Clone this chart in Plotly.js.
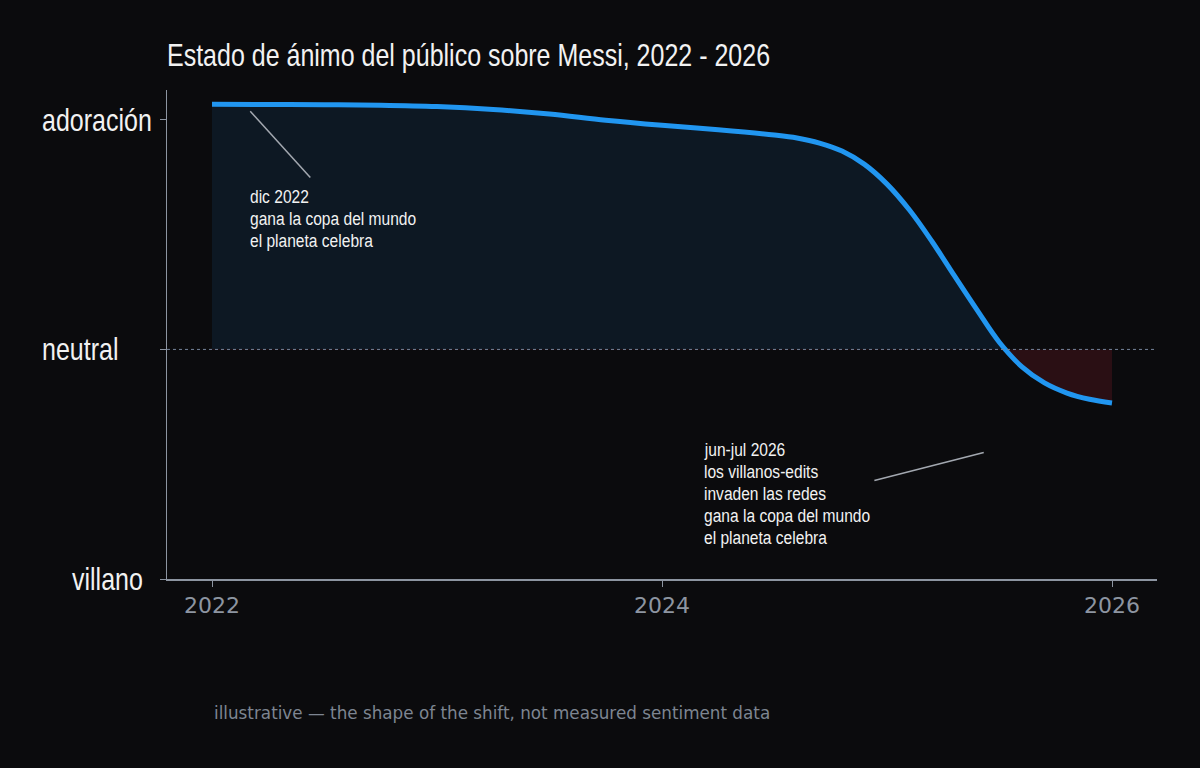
<!DOCTYPE html>
<html>
<head>
<meta charset="utf-8">
<script src="https://cdn.plot.ly/plotly-3.0.1.min.js"></script>
<style>
  html, body { margin: 0; padding: 0; background: #0b0b0d; }
  #chart { width: 1200px; height: 768px; }
</style>
</head>
<body>
<div id="chart"></div>
<script>
// Mood curve, in years and on a -1 (villano) .. +1 (adoración) scale
const years = [2022, 2022.25, 2022.5, 2022.75, 2023, 2023.25, 2023.5, 2023.75,
               2024, 2024.25, 2024.5, 2024.6, 2024.7, 2024.8, 2024.9, 2025,
               2025.1, 2025.2, 2025.3, 2025.4, 2025.5, 2025.6, 2025.7, 2025.8,
               2025.9, 2026];
const mood  = [1.068, 1.067, 1.066, 1.064, 1.058, 1.045, 1.025, 0.998,
               0.976, 0.957, 0.934, 0.921, 0.899, 0.864, 0.806, 0.72,
               0.607, 0.47, 0.32, 0.172, 0.03, -0.076, -0.146, -0.19,
               -0.217, -0.233];

// Y-axis scale labels
const moodTicks  = [1, 0, -1];
const moodLabels = ['adoración', 'neutral', 'villano'];

// Year ticks
const yearTicks = [2022, 2024, 2026];

// Callouts: anchor of the first line, then the lines themselves
const noteYears = [2022.16, 2024.178];
const noteMood  = [0.664, -0.435];
const noteLines = [
  ['dic 2022', 'gana la copa del mundo', 'el planeta celebra'],
  ['jun-jul 2026', 'los villanos-edits', 'invaden las redes',
   'gana la copa del mundo', 'el planeta celebra']
];
// Leader lines: [x0, y0, x1, y1] in data units
const leaders = [
  [2022.17, 1.037, 2022.437, 0.749],
  [2024.944, -0.571, 2025.43, -0.449]
];

const footer = 'illustrative — the shape of the shift, not measured sentiment data';
const title = 'Estado de ánimo del público sobre Messi, 2022 - 2026';

const sans = '"Liberation Sans", Arial, sans-serif';
const axisGray = '#8d95a1';
const textWhite = '#f2f2f2';
const yRange = [-1, 1.13];
const lineGap = 22;          // px between callout lines
const narrowScale = 0.82;    // horizontal squeeze for the narrow headline face

// Fill colour switches at mood = 0
const gradStop = 1.2;
const zeroFrac = (0 - yRange[0]) / (gradStop - yRange[0]);

const trace = {
  x: years,
  y: mood,
  type: 'scatter',
  mode: 'lines',
  line: { color: '#2196f0', width: 5, shape: 'spline', smoothing: 1 },
  fill: 'tozeroy',
  fillcolor: 'rgba(14,26,38,1)',
  fillgradient: {
    type: 'vertical',
    start: yRange[0],
    stop: gradStop,
    colorscale: [
      [0, '#2a0f14'],
      [zeroFrac, '#2a0f14'],
      [zeroFrac, '#0d1823'],
      [1, '#0d1823']
    ]
  },
  hoverinfo: 'skip',
  showlegend: false
};

const annotations = [];
const labelShift = [-127, -127, -97];
moodTicks.forEach((v, i) => {
  annotations.push({
    xref: 'paper', yref: 'y', x: 0, y: v,
    xanchor: 'left', yanchor: 'middle', xshift: labelShift[i],
    text: moodLabels[i], showarrow: false,
    font: { family: sans, size: 30.5, color: textWhite }
  });
});
noteLines.forEach((lines, i) => {
  lines.forEach((t, j) => {
    annotations.push({
      xref: 'x', yref: 'y', x: noteYears[i], y: noteMood[i],
      xanchor: 'left', yanchor: 'middle', yshift: -j * lineGap,
      align: 'left', text: t, showarrow: false,
      font: { family: sans, size: 19, color: textWhite }
    });
  });
});
annotations.push({
  xref: 'x', yref: 'paper', x: yearTicks[0], y: -0.275,
  xanchor: 'left', yanchor: 'middle', text: footer, showarrow: false,
  font: { family: 'DejaVu Sans, sans-serif', size: 16.8, color: '#7d8591' }
});

const shapes = [
  {
    type: 'line', xref: 'paper', yref: 'y', x0: 0, x1: 1, y0: 0, y1: 0,
    line: { color: '#75839a', width: 1, dash: 'dot' }, layer: 'above'
  }
].concat(leaders.map(l => ({
  type: 'line', xref: 'x', yref: 'y', x0: l[0], y0: l[1], x1: l[2], y1: l[3],
  line: { color: '#a3a8b0', width: 1.5 }
})));

const layout = {
  width: 1200, height: 768,
  paper_bgcolor: '#0b0b0d',
  plot_bgcolor: '#0b0b0d',
  margin: { l: 167, r: 43, t: 90, b: 189 },
  title: {
    text: title,
    x: 0, xref: 'paper', xanchor: 'left',
    y: 0.928, yref: 'container', yanchor: 'middle',
    font: { family: sans, size: 30.5, color: textWhite }
  },
  xaxis: {
    range: [2021.8, 2026.2],
    tickvals: yearTicks,
    ticktext: yearTicks.map(String),
    ticks: 'outside', ticklen: 6, tickcolor: axisGray,
    showline: true, linecolor: axisGray, linewidth: 1.5,
    showgrid: false, zeroline: false,
    tickfont: { family: 'DejaVu Sans, sans-serif', size: 22, color: axisGray }
  },
  yaxis: {
    range: yRange,
    tickvals: moodTicks,
    ticks: 'outside', ticklen: 6, tickcolor: axisGray,
    showticklabels: false,
    showline: true, linecolor: axisGray, linewidth: 1.5,
    showgrid: false, zeroline: false
  },
  annotations: annotations,
  shapes: shapes
};

// Squeeze the Liberation Sans texts horizontally so they read as a narrow face,
// keeping each text's left edge in place.
function narrowTexts(gd) {
  gd.querySelectorAll('text').forEach(t => {
    if ((t.style.fontFamily || '').indexOf('Liberation Sans') !== -1) {
      t.style.transformBox = 'fill-box';
      t.style.transformOrigin = 'left center';
      t.style.transform = 'scaleX(' + narrowScale + ')';
    }
  });
}

Plotly.newPlot('chart', [trace], layout, { displayModeBar: false, staticPlot: true })
  .then(narrowTexts);
</script>
</body>
</html>
